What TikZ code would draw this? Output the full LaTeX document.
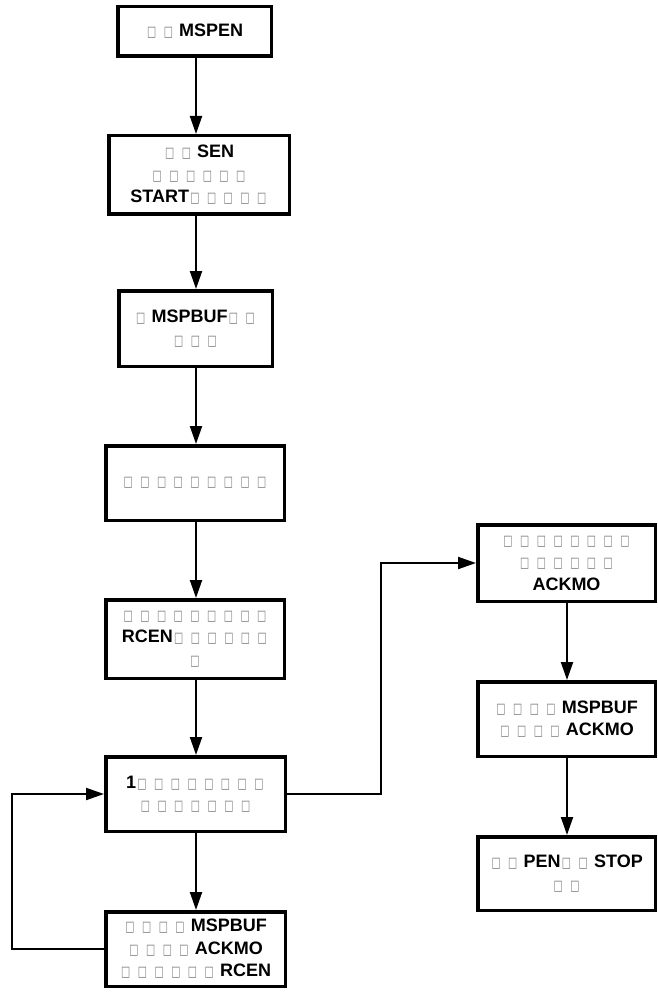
\documentclass[tikz,border=0pt]{standalone}
\usepackage{fontspec}
\setmainfont{Liberation Sans}
\newfontfamily\dv{DejaVu Sans}
\usepackage{graphicx}
\usetikzlibrary{arrows.meta}
\definecolor{tofu}{RGB}{125,125,125}
\newcommand\q{\makebox[11.7pt]{\textcolor{tofu}{\dv\fontseries{m}\selectfont\scalebox{0.54}[0.8]{□}}}}
\tikzset{
  box/.style={draw, line width=3.5pt, rectangle, align=center, inner sep=0pt,
    font=\fontsize{18}{22.5}\selectfont\bfseries},
  arr/.style={line width=2pt, -{Triangle[length=18pt,width=12pt]}},
  con/.style={line width=2pt}
}
\begin{document}
\begin{tikzpicture}[x=1pt,y=-1pt]
\useasboundingbox (0,0) rectangle (657,992);
\node[box, minimum width=153.5pt, minimum height=49.5pt] (b1) at (194.5,31.5) {\q{} \q{} MSPEN};
\node[box, minimum width=180.5pt, minimum height=78.5pt] (b2) at (199,175) {\q{} \q{} SEN\\\q{} \q{} \q{} \q{} \q{} \q{}\\START\q{} \q{} \q{} \q{} \q{}};
\node[box, minimum width=153.5pt, minimum height=75.5pt] (b3) at (195.5,328.5) {\q{} MSPBUF\q{} \q{}\\\q{} \q{} \q{}};
\node[box, minimum width=178.5pt, minimum height=74.5pt] (b4) at (195,483) {\q{} \q{} \q{} \q{} \q{} \q{} \q{} \q{} \q{}};
\node[box, minimum width=178.5pt, minimum height=78.5pt] (b5) at (195,639) {\q{} \q{} \q{} \q{} \q{} \q{} \q{} \q{} \q{}\\RCEN\q{} \q{} \q{} \q{} \q{} \q{}\\\q{}};
\node[box, minimum width=179.5pt, minimum height=74.5pt] (b6) at (195.5,794) {1\q{} \q{} \q{} \q{} \q{} \q{} \q{} \q{}\\\q{} \q{} \q{} \q{} \q{} \q{} \q{}};
\node[box, minimum width=179.5pt, minimum height=74.5pt] (b7) at (195.5,949) {\q{} \q{} \q{} \q{} MSPBUF\\\q{} \q{} \q{} \q{} ACKMO\\\q{} \q{} \q{} \q{} \q{} \q{} RCEN};
\node[box, minimum width=177.5pt, minimum height=76.5pt] (b8) at (566.5,563) {\q{} \q{} \q{} \q{} \q{} \q{} \q{} \q{}\\\q{} \q{} \q{} \q{} \q{} \q{}\\ACKMO};
\node[box, minimum width=177.5pt, minimum height=74.5pt] (b9) at (566.5,719) {\q{} \q{} \q{} \q{} MSPBUF\\\q{} \q{} \q{} \q{} ACKMO};
\node[box, minimum width=177.5pt, minimum height=73.5pt] (b10) at (566.5,873.5) {\q{} \q{} PEN\q{} \q{} STOP\\\q{} \q{}};
\coordinate (lc) at (196,0);
\coordinate (rc) at (567,0);
\coordinate (lp) at (12,0);
\coordinate (rp) at (381,0);
\draw[arr] (lc |- b1.south) -- (lc |- b2.north);
\draw[arr] (lc |- b2.south) -- (lc |- b3.north);
\draw[arr] (lc |- b3.south) -- (lc |- b4.north);
\draw[arr] (lc |- b4.south) -- (lc |- b5.north);
\draw[arr] (lc |- b5.south) -- (lc |- b6.north);
\draw[arr] (lc |- b6.south) -- (lc |- b7.north);
\draw[arr] (rc |- b8.south) -- (rc |- b9.north);
\draw[arr] (rc |- b9.south) -- (rc |- b10.north);
\draw[arr] (b7.west) -- (lp |- b7.west) |- (b6.west);
\draw[arr] (b6.east) -- (rp |- b6.east) |- (b8.west);
\end{tikzpicture}
\end{document}
